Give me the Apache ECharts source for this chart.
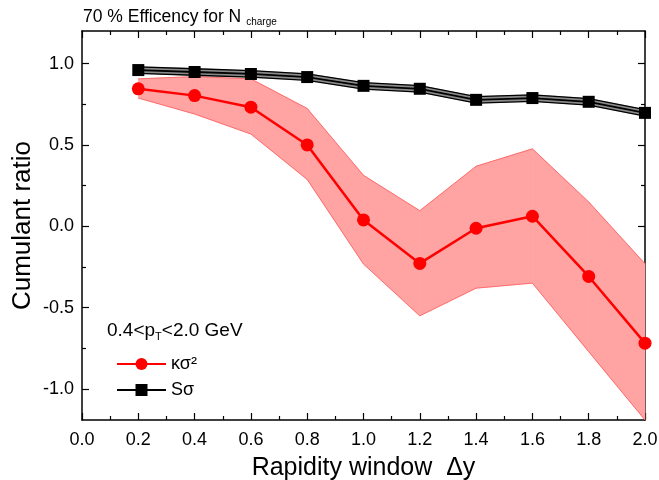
<!DOCTYPE html>
<html>
<head>
<meta charset="utf-8">
<script src="https://cdn.jsdelivr.net/npm/echarts@6/dist/echarts.min.js"></script>
<style>html,body{margin:0;padding:0;background:#fff}#c{width:659px;height:480px}</style>
</head>
<body>
<div id="c"></div>
<script>
// ---- data ----
const xVals      = [0.2, 0.4, 0.6, 0.8, 1.0, 1.2, 1.4, 1.6, 1.8, 2.0];
const sSigma     = [0.960, 0.948, 0.936, 0.917, 0.863, 0.845, 0.777, 0.788, 0.765, 0.697];
const sSigmaErr  = [0.02, 0.02, 0.02, 0.02, 0.02, 0.02, 0.02, 0.02, 0.02, 0.02];
const kSigma2    = [0.845, 0.803, 0.732, 0.500, 0.039, -0.228, -0.012, 0.062, -0.308, -0.718];
const kUpper     = [0.906, 0.920, 0.906, 0.724, 0.313, 0.096, 0.369, 0.476, 0.150, -0.230];
const kLower     = [0.788, 0.690, 0.567, 0.288, -0.232, -0.550, -0.380, -0.349, -0.770, -1.190];
const xTicks     = [0, 0.2, 0.4, 0.6, 0.8, 1.0, 1.2, 1.4, 1.6, 1.8, 2.0];
const yMajor     = [-1.0, -0.5, 0.0, 0.5, 1.0];
const yMinor     = [-0.75, -0.25, 0.25, 0.75];

const FONT = 'Liberation Sans, Arial, sans-serif';
const pairs = (ys) => xVals.map((x, i) => [x, ys[i]]);
// band segments: [x0, lo0, hi0, x1, lo1, hi1]
const segs = (lo, hi) => xVals.slice(0, -1).map((x, i) => [x, lo[i], hi[i], xVals[i + 1], lo[i + 1], hi[i + 1]]);

const sLow = sSigma.map((v, i) => v - sSigmaErr[i]);
const sHigh = sSigma.map((v, i) => v + sSigmaErr[i]);

function bandRender(fill) {
  return function (params, api) {
    const p = [
      api.coord([api.value(0), api.value(1)]),
      api.coord([api.value(3), api.value(4)]),
      api.coord([api.value(3), api.value(5)]),
      api.coord([api.value(0), api.value(2)])
    ];
    return {
      type: 'polygon',
      shape: {points: p},
      style: {fill: fill, stroke: fill, lineWidth: 0.6},
      silent: true
    };
  };
}

const chart = echarts.init(document.getElementById('c'), null, {renderer: 'canvas'});

const axLine = {show: true, onZero: false, lineStyle: {color: '#000', width: 1.5}};
const xBase = {
  type: 'value', min: 0, max: 2, interval: 0.2,
  axisLine: axLine, splitLine: {show: false},
  axisTick: {show: true, inside: true, length: 7, lineStyle: {color: '#000', width: 1.2}},
  minorTick: {show: true, splitNumber: 2, length: 4, lineStyle: {color: '#000', width: 1.2}},
  minorSplitLine: {show: false}
};
const yBase = {
  type: 'value', min: -1.19, max: 1.2,
  splitLine: {show: false}
};

const option = {
  animation: false,
  backgroundColor: '#fff',
  grid: {left: 82, right: 14, top: 31, bottom: 60, containLabel: false, outerBoundsMode: 'none'},
  xAxis: [
    Object.assign({}, xBase, {
      position: 'bottom',
      name: 'Rapidity window  \u0394y', nameLocation: 'middle', nameGap: 36, nameMoveOverlap: false,
      nameTextStyle: {fontFamily: FONT, fontSize: 25, color: '#000'},
      axisLabel: {show: true, margin: 11, fontFamily: FONT, fontSize: 18, color: '#000',
                  formatter: (v) => v.toFixed(1),
                  customValues: xTicks}
    }),
    Object.assign({}, xBase, {position: 'top', axisLabel: {show: false}})
  ],
  yAxis: [
    Object.assign({}, yBase, {
      position: 'left',
      axisLine: axLine,
      name: 'Cumulant ratio', nameLocation: 'middle', nameGap: 46, nameRotate: 90, nameMoveOverlap: false,
      nameTextStyle: {fontFamily: FONT, fontSize: 26, color: '#000'},
      axisTick: {show: true, inside: true, length: 7, customValues: yMajor, lineStyle: {color: '#000', width: 1.2}},
      axisLabel: {show: true, margin: 8, fontFamily: FONT, fontSize: 18, color: '#000',
                  customValues: yMajor, formatter: (v) => v.toFixed(1)}
    }),
    Object.assign({}, yBase, {
      position: 'right',
      axisLine: axLine,
      axisTick: {show: true, inside: true, length: 7, customValues: yMajor, lineStyle: {color: '#000', width: 1.2}},
      axisLabel: {show: false}
    }),
    Object.assign({}, yBase, {
      position: 'left', axisLine: {show: false, onZero: false},
      axisTick: {show: true, inside: true, length: 4, customValues: yMinor, lineStyle: {color: '#000', width: 1.2}},
      axisLabel: {show: false}
    }),
    Object.assign({}, yBase, {
      position: 'right', axisLine: {show: false, onZero: false},
      axisTick: {show: true, inside: true, length: 4, customValues: yMinor, lineStyle: {color: '#000', width: 1.2}},
      axisLabel: {show: false}
    })
  ],
  legend: {
    data: ['\u03ba\u03c3\u00b2', 'S\u03c3'],
    orient: 'vertical', left: 111, top: 350,
    itemWidth: 49, itemHeight: 15, itemGap: 8,
    textStyle: {fontFamily: FONT, fontSize: 18, color: '#000', lineHeight: 18}
  },
  graphic: [
    {
      type: 'text', left: 83, top: 8, silent: true,
      style: {
        text: '{a|70 % Efficency for N}{b|charge}',
        rich: {
          a: {fontFamily: FONT, fontSize: 17.5, color: '#000', lineHeight: 21, verticalAlign: 'middle'},
          b: {fontFamily: FONT, fontSize: 10, color: '#000', lineHeight: 10, verticalAlign: 'bottom', padding: [0, 0, 0, 5]}
        }
      }
    },
    {
      type: 'text', left: 107, top: 321, silent: true,
      style: {
        text: '{a|0.4<p}{b|T}{a|<2.0 GeV}',
        rich: {
          a: {fontFamily: FONT, fontSize: 19, color: '#000', lineHeight: 24, verticalAlign: 'middle'},
          b: {fontFamily: FONT, fontSize: 11, color: '#000', lineHeight: 12, verticalAlign: 'bottom'}
        }
      }
    }
  ],
  series: [
    {
      name: 'kBand', type: 'custom', data: segs(kLower, kUpper), z: 1,
      encode: {x: [0, 3], y: [1, 2, 4, 5]},
      renderItem: bandRender('#ffa3a3'), silent: true
    },
    {
      name: 'kLowEdge', type: 'line', data: pairs(kLower), symbol: 'none', silent: true, z: 1,
      lineStyle: {color: '#ff5a5a', width: 0.8}
    },
    {
      name: 'kHighEdge', type: 'line', data: pairs(kUpper), symbol: 'none', silent: true, z: 1,
      lineStyle: {color: '#ff5a5a', width: 0.8}
    },
    {
      name: 'sBand', type: 'custom', data: segs(sLow, sHigh), z: 2,
      encode: {x: [0, 3], y: [1, 2, 4, 5]},
      renderItem: bandRender('#8a8a8a'), silent: true
    },
    {
      name: 'sLowEdge', type: 'line', data: pairs(sLow), symbol: 'none', silent: true, z: 2,
      lineStyle: {color: '#000', width: 1.3}
    },
    {
      name: 'sHighEdge', type: 'line', data: pairs(sHigh), symbol: 'none', silent: true, z: 2,
      lineStyle: {color: '#000', width: 1.3}
    },
    {
      name: '\u03ba\u03c3\u00b2', type: 'line', data: pairs(kSigma2), z: 3,
      symbol: 'circle', symbolSize: 13,
      lineStyle: {color: '#ff0000', width: 2.5},
      itemStyle: {color: '#ff0000', borderWidth: 0}
    },
    {
      name: 'S\u03c3', type: 'line', data: pairs(sSigma), z: 4,
      symbol: 'rect', symbolSize: 12,
      lineStyle: {color: '#000', width: 1.8},
      itemStyle: {color: '#000', borderWidth: 0}
    }
  ]
};
chart.setOption(option);
</script>
</body>
</html>
